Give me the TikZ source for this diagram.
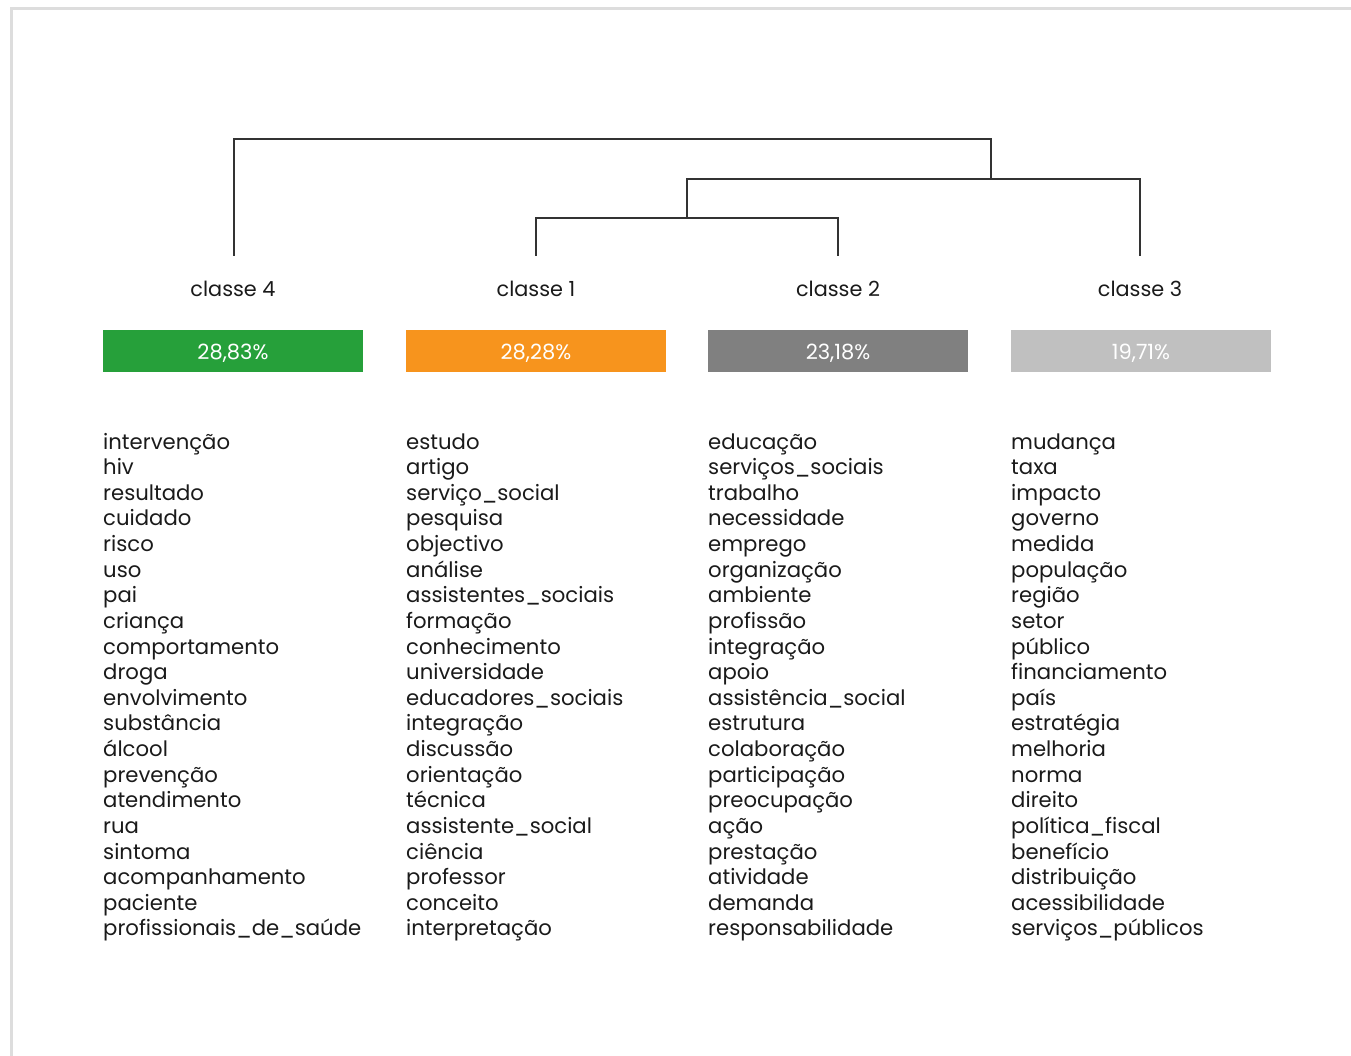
\documentclass[tikz,border=0pt]{standalone}
\usepackage{fontspec}
\setmainfont{Poppins}
\definecolor{framegrey}{HTML}{DDDDDD}
\definecolor{linegrey}{HTML}{333333}
\definecolor{txt}{HTML}{1A1A1A}
\definecolor{cgreen}{HTML}{26A03A}
\definecolor{corange}{HTML}{F7941D}
\definecolor{cgrey}{HTML}{808080}
\definecolor{clight}{HTML}{C0C0C0}
\tikzset{
  lab/.style={anchor=base, text=txt, font=\fontsize{20.8}{24}\selectfont, inner sep=0pt},
  pbox/.style={minimum width=260pt, minimum height=42pt, inner sep=0pt},
  ptext/.style={inner sep=0pt, text=white, yshift=-1.8pt, font=\fontsize{21}{24}\selectfont},
  word/.style={anchor=base west, text=txt, font=\fontsize{21.2}{24}\selectfont, inner sep=0pt},
  tree/.style={draw=linegrey, line width=1.3pt}
}
\begin{document}
\begin{tikzpicture}[x=1pt,y=-1pt]
\useasboundingbox (0,0) rectangle (1351,1056);
\draw[framegrey, line width=3pt] (11,1056) -- (11,9) -- (1351,9);
% labels
\node[lab] (c4) at (233,297) {classe 4};
\node[lab] (c1) at (536,297) {classe 1};
\node[lab] (c2) at (838,297) {classe 2};
\node[lab] (c3) at (1140,297) {classe 3};
% tree
\coordinate (t4) at (234,256);
\coordinate (t1) at (536,256);
\coordinate (t2) at (838,256);
\coordinate (t3) at (1140,256);
\coordinate (m12) at (687,218);
\coordinate (m123) at (991,179);
\draw[tree] (t1) |- (m12) -| (t2);
\draw[tree] (m12) |- (m123) -| (t3);
\draw[tree] (t4) |- (991,139) -- (m123);
% boxes
\node[pbox, fill=cgreen] (p4) at (233,351) {};
\node[pbox, fill=corange] (p1) at (536,351) {};
\node[pbox, fill=cgrey] (p2) at (838,351) {};
\node[pbox, fill=clight] (p3) at (1141,351) {};
\node[ptext] (p4t) at (p4) {28,83\%};
\node[ptext] (p1t) at (p1) {28,28\%};
\node[ptext] (p2t) at (p2) {23,18\%};
\node[ptext] (p3t) at (p3) {19,71\%};
% words
\foreach \w [count=\i] in {intervenção,hiv,resultado,cuidado,risco,uso,pai,criança,comportamento,droga,envolvimento,substância,álcool,prevenção,atendimento,rua,sintoma,acompanhamento,paciente,profissionais\_de\_saúde}
  \node[word] (w4-\i) at (103,{449+25.63*(\i-1)}) {\w};
\foreach \w [count=\i] in {estudo,artigo,serviço\_social,pesquisa,objectivo,análise,assistentes\_sociais,formação,conhecimento,universidade,educadores\_sociais,integração,discussão,orientação,técnica,assistente\_social,ciência,professor,conceito,interpretação}
  \node[word] (w1-\i) at (406,{449+25.63*(\i-1)}) {\w};
\foreach \w [count=\i] in {educação,serviços\_sociais,trabalho,necessidade,emprego,organização,ambiente,profissão,integração,apoio,assistência\_social,estrutura,colaboração,participação,preocupação,ação,prestação,atividade,demanda,responsabilidade}
  \node[word] (w2-\i) at (708,{449+25.63*(\i-1)}) {\w};
\foreach \w [count=\i] in {mudança,taxa,impacto,governo,medida,população,região,setor,público,financiamento,país,estratégia,melhoria,norma,direito,política\_fiscal,benefício,distribuição,acessibilidade,serviços\_públicos}
  \node[word] (w3-\i) at (1011,{449+25.63*(\i-1)}) {\w};
\end{tikzpicture}
\end{document}
